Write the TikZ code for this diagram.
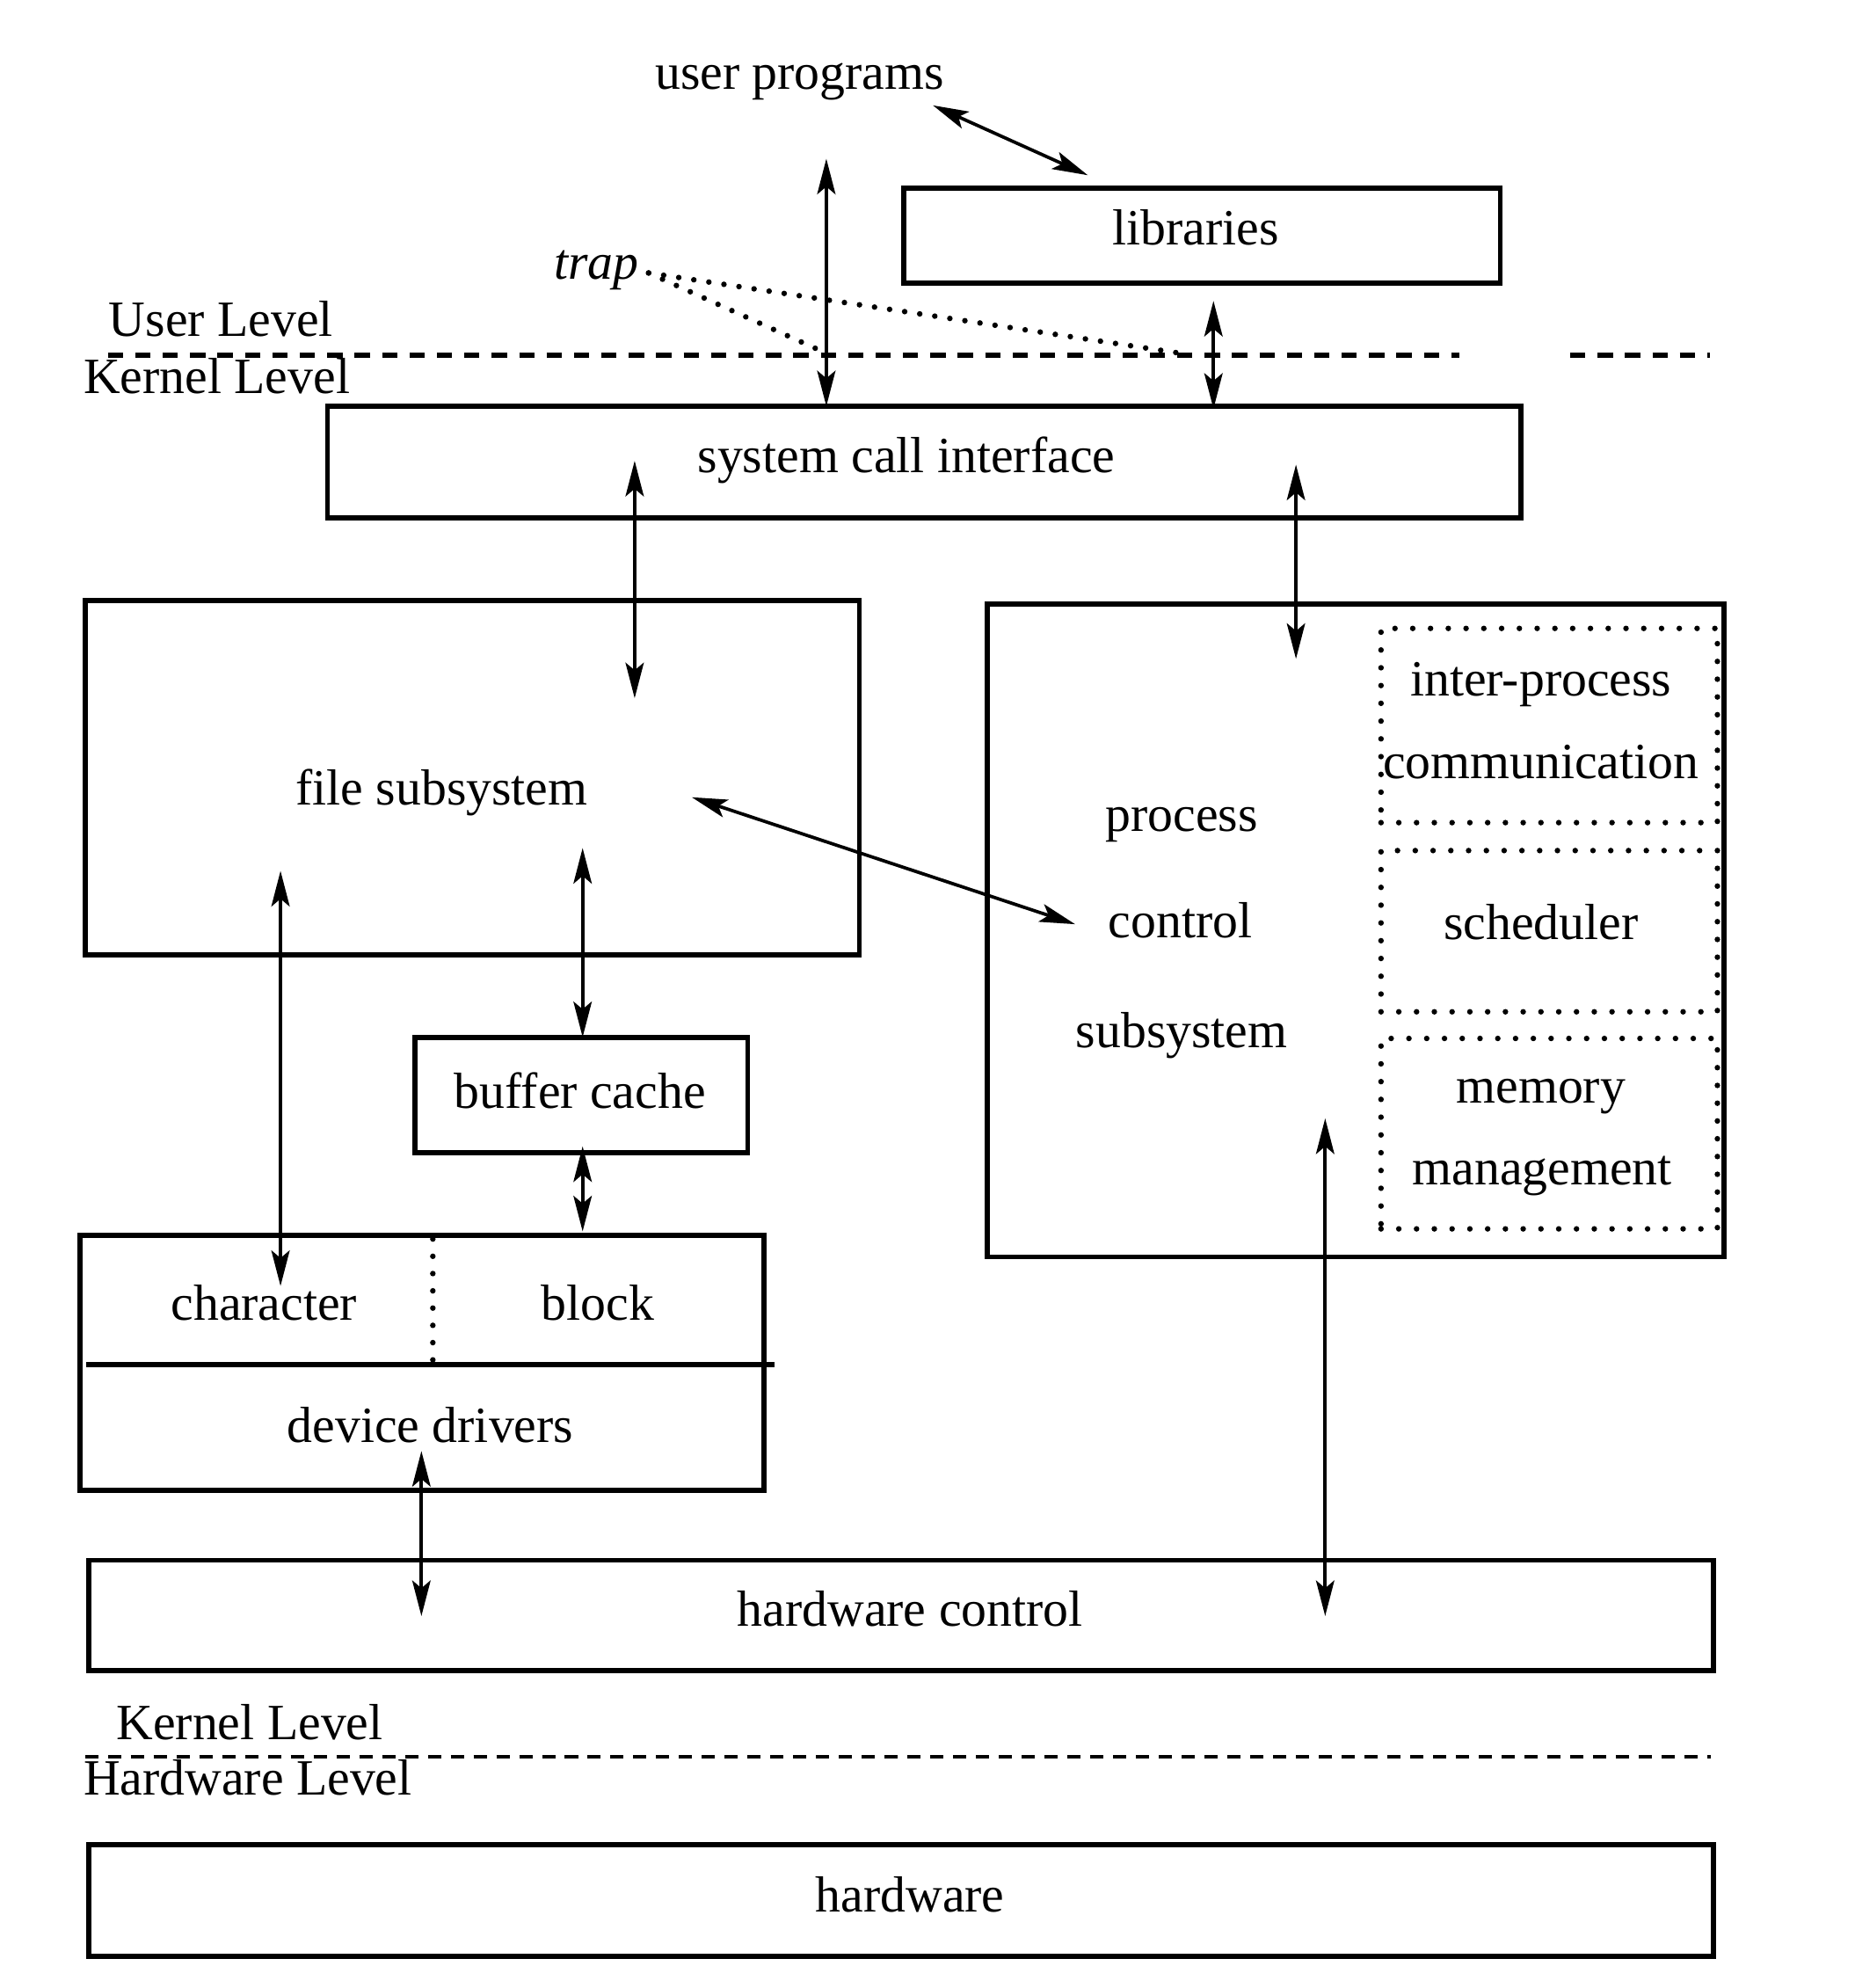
\documentclass[tikz,border=0pt]{standalone}
\usepackage{fontspec}
\setmainfont{Liberation Serif}
\usetikzlibrary{arrows.meta}
\begin{document}
\begin{tikzpicture}[x=0.25pt,y=-0.25pt,
  box/.style={draw,line width=1pt,rectangle,inner sep=0pt},
  dotbox/.style={draw,line width=1.1pt,line cap=round,dash pattern=on 0pt off 3.5pt,rectangle,inner sep=0pt},
  lbl/.style={inner sep=0pt,anchor=base,font=\fontsize{10}{12}\selectfont},
  lblw/.style={inner sep=0pt,anchor=base west,font=\fontsize{10}{12}\selectfont},
  conn/.style={line width=0.65pt,{Stealth[length=7pt,width=3.6pt,inset=1.5pt]}-{Stealth[length=7pt,width=3.6pt,inset=1.5pt]}},
  trapline/.style={line width=1.1pt,line cap=round,dash pattern=on 0pt off 3pt},
  levelA/.style={line width=1pt,dash pattern=on 3pt off 2.4pt},
  levelB/.style={line width=0.65pt,dash pattern=on 2.6pt off 1.9pt}]
\useasboundingbox (0,0) rectangle (1461,1566);

% boxes
\node[box,minimum width=117.5pt,minimum height=18.75pt] (lib) at (947,185.5) {};
\node[box,minimum width=235pt,minimum height=22pt] (sci) at (728,364) {};
\node[box,minimum width=152.5pt,minimum height=69.75pt] (fs) at (372,612.5) {};
\node[box,minimum width=65.5pt,minimum height=22.75pt] (bc) at (458,862.5) {};
\node[box,minimum width=134.75pt,minimum height=50.25pt] (dd) at (332.5,1073.5) {};
\node[box,minimum width=145pt,minimum height=128.5pt] (pcs) at (1068,733) {};
\node[dotbox,minimum width=66.25pt,minimum height=38.25pt] (ipc) at (1220.5,571.5) {};
\node[dotbox,minimum width=66.25pt,minimum height=31.75pt] (sch) at (1220.5,733.5) {};
\node[dotbox,minimum width=66.25pt,minimum height=37.5pt] (mm) at (1220.5,893) {};
\node[box,minimum width=320pt,minimum height=21.75pt] (hc) at (710,1272.5) {};
\node[box,minimum width=320pt,minimum height=22pt] (hw) at (710,1497) {};

% device driver subdivisions
\coordinate (ddL) at (68,1075);
\coordinate (ddR) at (610,1075);
\draw[line width=1pt] (ddL) -- (ddR);
\coordinate (ddDT) at (341,976);
\coordinate (ddDB) at (341,1072);
\draw[line width=1.1pt,line cap=round,dash pattern=on 0pt off 3.4pt] (ddDT) -- (ddDB);

% labels
\node[lbl] (tup) at (630,70) {user programs};
\node[lbl] (tlib) at (942,193) {libraries};
\node[lbl] (ttrap) at (470,220) {\itshape trap};
\node[lblw] (tul) at (85,265) {User Level};
\node[lblw] (tkl) at (65,310) {Kernel Level};
\node[lbl] (tsci) at (714,372) {system call interface};
\node[lbl] (tfs) at (348,634) {file subsystem};
\node[lbl] (tp1) at (931,655) {process};
\node[lbl] (tp2) at (930,739) {control};
\node[lbl] (tp3) at (931,825) {subsystem};
\node[lbl] (ti1) at (1214,548) {inter-process};
\node[lbl] (ti2) at (1214,613) {communication};
\node[lbl] (tsch) at (1214,740) {scheduler};
\node[lbl] (tm1) at (1214,869) {memory};
\node[lbl] (tm2) at (1215,933) {management};
\node[lbl] (tbc) at (457,873) {buffer cache};
\node[lbl] (tch) at (208,1040) {character};
\node[lbl] (tbl) at (471,1040) {block};
\node[lbl] (tdd) at (339,1136) {device drivers};
\node[lbl] (thc) at (717,1281) {hardware control};
\node[lblw] (tkl2) at (91,1370) {Kernel Level};
\node[lblw] (thl) at (65,1414) {Hardware Level};
\node[lbl] (thw) at (717,1506) {hardware};

% level lines
\coordinate (l1a) at (85,280);
\coordinate (l1b) at (1150,280);
\coordinate (l1c) at (1237,280);
\coordinate (l1d) at (1347,280);
\draw[levelA] (l1a) -- (l1b);
\draw[levelA] (l1c) -- (l1d);
\coordinate (l2a) at (67,1384);
\coordinate (l2b) at (1348,1384);
\draw[levelB] (l2a) -- (l2b);

% trap dotted lines
\coordinate (trA) at (511,215);
\coordinate (trB) at (646,276);
\coordinate (trC) at (935,279);
\draw[trapline] (trA) -- (trB);
\draw[trapline] (trA) -- (trC);

% connectors
\coordinate (c1a) at (735,83);  \coordinate (c1b) at (857,138);
\draw[conn] (c1a) -- (c1b);
\coordinate (c2a) at (651,125); \coordinate (c2b) at (651,320);
\draw[conn] (c2a) -- (c2b);
\coordinate (c3a) at (956,237); \coordinate (c3b) at (956,322);
\draw[conn] (c3a) -- (c3b);
\coordinate (c4a) at (500,363); \coordinate (c4b) at (500,550);
\draw[conn] (c4a) -- (c4b);
\coordinate (c5a) at (1021,366); \coordinate (c5b) at (1021,519);
\draw[conn] (c5a) -- (c5b);
\coordinate (c6a) at (545,628); \coordinate (c6b) at (847,728);
\draw[conn] (c6a) -- (c6b);
\coordinate (c7a) at (221,686); \coordinate (c7b) at (221,1013);
\draw[conn] (c7a) -- (c7b);
\coordinate (c8a) at (459,668); \coordinate (c8b) at (459,817);
\draw[conn] (c8a) -- (c8b);
\coordinate (c9a) at (459,903); \coordinate (c9b) at (459,970);
\draw[conn] (c9a) -- (c9b);
\coordinate (c10a) at (332,1143); \coordinate (c10b) at (332,1273);
\draw[conn] (c10a) -- (c10b);
\coordinate (c11a) at (1044,881); \coordinate (c11b) at (1044,1273);
\draw[conn] (c11a) -- (c11b);
\end{tikzpicture}
\end{document}
